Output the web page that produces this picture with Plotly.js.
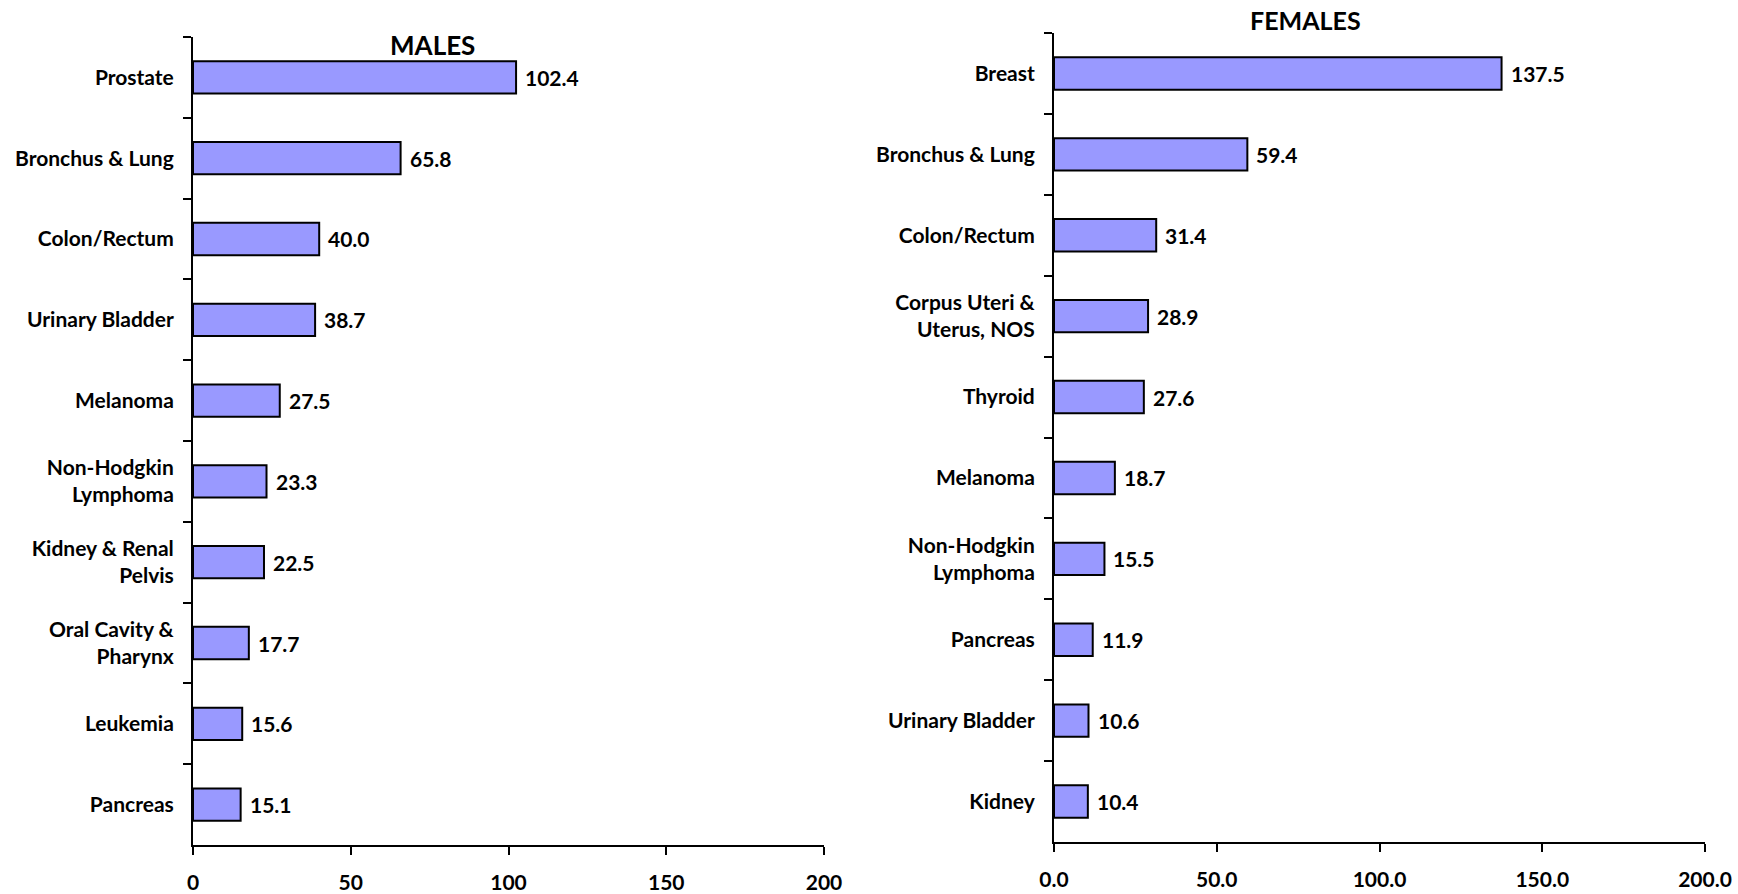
<!DOCTYPE html>
<html>
<head>
<meta charset="utf-8">
<script src="https://cdn.plot.ly/plotly-3.0.1.min.js"></script>
<style>html,body{margin:0;padding:0;background:#fff;}#chart{width:1738px;height:894px;}</style>
</head>
<body>
<div id="chart"></div>
<script>
const maleCategories = ["Prostate", "Bronchus & Lung", "Colon/Rectum", "Urinary Bladder", "Melanoma", "Non-Hodgkin<br>Lymphoma", "Kidney & Renal<br>Pelvis", "Oral Cavity &<br>Pharynx", "Leukemia", "Pancreas"];
const maleValues = [102.4, 65.8, 40.0, 38.7, 27.5, 23.3, 22.5, 17.7, 15.6, 15.1];
const femaleCategories = ["Breast", "Bronchus & Lung", "Colon/Rectum", "Corpus Uteri &<br>Uterus, NOS", "Thyroid", "Melanoma", "Non-Hodgkin<br>Lymphoma", "Pancreas", "Urinary Bladder", "Kidney"];
const femaleValues = [137.5, 59.4, 31.4, 28.9, 27.6, 18.7, 15.5, 11.9, 10.6, 10.4];
const maleTickVals = [0, 50, 100, 150, 200];
const maleTickText = ["0", "50", "100", "150", "200"];
const femaleTickVals = [0, 50, 100, 150, 200];
const femaleTickText = ["0.0", "50.0", "100.0", "150.0", "200.0"];

const FONT = "Lato, 'Open Sans', sans-serif";
const barColor = "#9999FF";

const traces = [
  {type: "bar", orientation: "h", x: maleValues, y: maleCategories, xaxis: "x", yaxis: "y",
   marker: {color: barColor, line: {color: "#000", width: 2}}, hoverinfo: "x+y"},
  {type: "bar", orientation: "h", x: femaleValues, y: femaleCategories, xaxis: "x2", yaxis: "y2",
   marker: {color: barColor, line: {color: "#000", width: 2}}, hoverinfo: "x+y"}
];

const annotations = [];
maleValues.forEach((v, i) => annotations.push({
  xref: "x", yref: "y", x: v, y: maleCategories[i], text: v.toFixed(1), showarrow: false,
  xanchor: "left", xshift: 7, font: {family: FONT, size: 21, color: "#000", weight: "bold"}
}));
femaleValues.forEach((v, i) => annotations.push({
  xref: "x2", yref: "y2", x: v, y: femaleCategories[i], text: v.toFixed(1), showarrow: false,
  xanchor: "left", xshift: 7, font: {family: FONT, size: 21, color: "#000", weight: "bold"}
}));
annotations.push({xref: "paper", yref: "paper", x: 432/1738, y: 1 - 45/894, text: "MALES", showarrow: false,
  xanchor: "center", yanchor: "middle", font: {family: FONT, size: 26, color: "#000", weight: "bold"}});
annotations.push({xref: "paper", yref: "paper", x: 1305/1738, y: 1 - 20/894, text: "FEMALES", showarrow: false,
  xanchor: "center", yanchor: "middle", font: {family: FONT, size: 25, color: "#000", weight: "bold"}});

const xCommon = {range: [0, 200], showgrid: false, zeroline: false, showline: true, linecolor: "#000", linewidth: 2,
  ticks: "outside", ticklen: 8, tickwidth: 2, tickcolor: "#000", ticklabelstandoff: 10,
  tickfont: {family: FONT, size: 21, color: "#000", weight: "bold"}, fixedrange: true};
const yCommon = {type: "category", autorange: "reversed", showgrid: false, zeroline: false, showline: true,
  linecolor: "#000", linewidth: 2, ticks: "outside", tickson: "boundaries", ticklen: 8, tickwidth: 2, tickcolor: "#000",
  ticklabelstandoff: 13, tickfont: {family: FONT, size: 21, color: "#000", weight: "bold"}, fixedrange: true};

const layout = {
  width: 1738, height: 894, margin: {l: 0, r: 0, t: 0, b: 0},
  paper_bgcolor: "#fff", plot_bgcolor: "#fff", showlegend: false, bargap: 0.6,
  font: {family: FONT, color: "#000"},
  xaxis: Object.assign({}, xCommon, {domain: [193/1738, 824/1738], anchor: "y", tickvals: maleTickVals, ticktext: maleTickText}),
  yaxis: Object.assign({}, yCommon, {domain: [1 - 845/894, 1 - 37/894], anchor: "x"}),
  xaxis2: Object.assign({}, xCommon, {domain: [1054/1738, 1705/1738], anchor: "y2", tickvals: femaleTickVals, ticktext: femaleTickText}),
  yaxis2: Object.assign({}, yCommon, {domain: [1 - 842/894, 1 - 33/894], anchor: "x2"}),
  annotations: annotations
};

Plotly.newPlot("chart", traces, layout, {displayModeBar: false, staticPlot: true});
</script>
</body>
</html>
